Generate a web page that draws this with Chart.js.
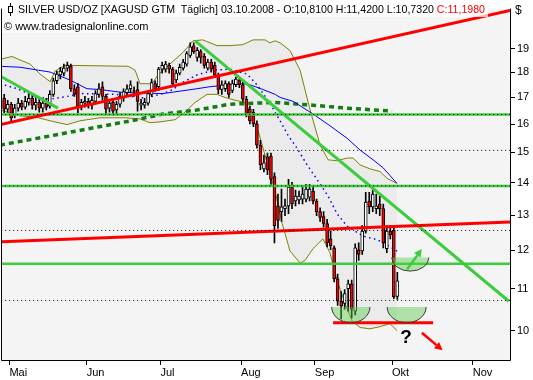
<!DOCTYPE html>
<html><head><meta charset="utf-8">
<script src="https://cdn.jsdelivr.net/npm/chart.js@4/dist/chart.umd.min.js"></script>
<style>html,body{margin:0;padding:0;background:#fff;overflow:hidden}canvas{display:block}</style>
</head><body>
<canvas id="c" width="533" height="380"></canvas>
<script>
// ---- categories / ticks ----
const firstIndex = -2; // trading-day index of first candle (29.04.2008); 0 = 01.05.2008
const monthLabels = ['Mai','Jun','Jul','Aug','Sep','Okt','Nov'];
const monthStartIndex = [0,22,43,66,87,109,132];
const yTickValues = [10,11,12,13,14,15,16,17,18,19];

// ---- OHLC (USD/oz) ----
const opens = [16.89,16.97,16.55,16.74,16.30,16.59,16.78,16.63,16.81,16.97,16.70,16.81,16.59,16.78,16.67,17.12,17.66,17.89,17.97,18.17,18.25,17.34,17.42,16.67,16.78,16.85,16.70,16.85,17.12,17.42,17.04,16.59,16.81,16.52,16.74,16.97,17.19,17.34,17.27,17.31,16.70,16.70,16.78,17.12,17.54,17.42,18.13,18.13,18.29,18.13,17.69,17.97,18.17,18.34,18.71,19.12,18.62,18.87,18.67,18.17,18.42,18.29,17.89,17.31,17.34,17.54,17.27,17.50,17.69,17.50,16.93,16.55,16.44,16.01,15.25,14.45,14.85,14.88,14.20,13.28,13.11,13.20,13.28,13.86,13.43,13.46,13.49,13.49,13.55,13.74,13.43,13.11,12.96,12.76,12.32,12.07,11.25,10.69,10.64,11.00,11.12,10.45,12.02,11.99,12.54,13.43,13.25,13.20,13.34,13.20,12.05,12.54,12.57,10.81];
const highs = [17.04,17.12,16.89,16.81,16.74,16.97,16.89,17.04,17.15,17.08,17.04,16.93,16.85,16.97,17.27,17.77,18.05,18.21,18.34,18.42,18.34,17.50,17.54,16.93,17.04,16.97,17.04,17.27,17.54,17.62,17.12,16.89,16.93,16.85,17.19,17.34,17.50,17.66,17.42,17.62,16.93,16.97,17.27,17.73,17.66,18.21,18.42,18.46,18.38,18.21,18.09,18.34,18.54,18.87,19.25,19.25,19.04,18.96,18.79,18.54,18.54,18.42,17.97,17.66,17.66,17.62,17.69,17.81,17.77,17.62,17.04,16.67,16.55,16.12,15.42,14.91,14.98,14.98,14.32,13.64,13.80,13.49,14.11,14.01,13.77,13.74,13.86,13.95,13.95,13.86,13.49,13.22,13.11,12.88,12.54,12.13,11.37,10.93,10.98,11.22,11.22,12.18,12.21,12.70,13.70,13.70,13.77,13.64,13.58,13.34,12.70,12.70,12.70,11.42];
const lows = [16.44,16.41,16.44,16.08,16.23,16.48,16.52,16.55,16.70,16.55,16.52,16.44,16.44,16.52,16.59,17.04,17.54,17.73,17.85,18.05,17.23,17.04,16.41,16.52,16.63,16.59,16.55,16.74,17.00,16.89,16.37,16.44,16.34,16.37,16.63,16.85,17.04,17.19,17.04,16.48,16.52,16.59,16.70,17.04,17.23,17.27,17.97,18.01,17.97,17.42,17.58,17.89,18.09,18.25,18.62,18.79,18.46,18.38,18.17,18.09,18.01,17.81,17.15,17.12,17.23,17.00,17.19,17.42,17.38,16.85,16.26,16.01,15.91,15.15,14.42,14.35,14.26,13.95,12.21,12.62,12.82,12.99,13.05,13.20,13.28,13.34,13.34,13.40,13.43,13.34,12.99,12.82,12.65,12.10,12.02,11.17,10.59,10.27,10.50,10.45,10.29,10.36,11.73,11.89,12.48,13.05,13.11,13.05,12.99,12.07,11.94,12.32,10.75,10.732];
const closes = [16.59,16.55,16.74,16.23,16.59,16.78,16.63,16.85,16.97,16.70,16.81,16.59,16.78,16.63,17.12,17.66,17.93,18.05,18.17,18.29,17.34,17.12,16.67,16.81,16.85,16.70,16.89,17.15,17.34,17.04,16.55,16.78,16.48,16.74,17.04,17.23,17.34,17.50,17.23,16.85,16.78,16.81,17.15,17.58,17.34,18.13,18.29,18.34,18.13,17.54,17.97,18.21,18.42,18.79,19.08,18.87,18.92,18.62,18.29,18.42,18.13,17.89,17.31,17.50,17.54,17.12,17.54,17.73,17.50,16.93,16.37,16.12,16.01,15.25,14.58,14.65,14.42,14.11,12.70,12.85,13.25,13.28,13.86,13.34,13.58,13.58,13.64,13.80,13.80,13.43,13.11,12.94,12.76,12.21,12.13,11.25,10.69,10.57,10.88,11.12,10.50,12.07,11.89,12.54,13.40,13.25,13.64,13.28,13.20,12.21,12.54,12.43,10.80,11.198];

// ---- indicators: [trading-day index, value] ----
const upperBand = [[-2.2,18.54],[1.2,18.66],[6.4,18.34],[9.2,17.93],[12.1,17.62],[13.5,18.05],[16.3,18.29],[34.3,18.25],[36.3,18.09],[37.7,17.54],[41.1,17.54],[42.8,17.89],[46.2,18.34],[49.9,18.83],[52.8,19.34],[55.6,19.38],[59.6,19.13],[63.3,19.13],[67.0,19.17],[69.9,19.38],[73.3,19.38],[74.7,19.25],[76.2,19.34],[77.6,19.25],[80.4,18.92],[83.3,18.09],[86.1,16.55],[89.0,15.25],[91.3,14.75],[93.8,14.72],[96.7,14.81],[98.4,14.81],[100.4,14.58],[103.2,14.45],[106.1,14.36],[108.1,14.14],[110.9,13.98]];
const lowerBand = [[-2.2,16.52],[3.5,16.30],[7.8,16.26],[12.1,16.12],[16.9,15.98],[20.6,16.12],[26.3,16.23],[33.4,16.23],[37.7,16.19],[40.5,16.05],[43.4,16.08],[47.7,16.16],[50.5,16.44],[53.4,16.81],[56.8,17.12],[59.6,17.12],[61.9,17.00],[64.8,16.89],[67.6,16.81],[69.0,16.48],[71.3,15.77],[73.3,14.91],[76.2,13.72],[78.2,12.76],[80.4,11.99],[83.3,11.66],[84.7,11.73],[87.0,12.05],[89.8,12.32],[91.8,11.94],[93.8,11.22],[96.1,10.64],[98.1,10.22],[100.4,10.07],[103.2,10.04],[106.1,10.09],[108.9,10.16],[110.9,10.00]];
const sma50 = [[-2.2,18.25],[3.5,18.21],[12.1,18.01],[17.7,17.69],[22.6,17.34],[26.3,17.31],[32.9,17.19],[44.2,17.15],[53.9,17.34],[57.6,17.42],[63.3,17.50],[67.0,17.54],[69.0,17.50],[72.7,17.31],[76.2,17.12],[77.6,17.00],[81.3,16.85],[87.0,16.37],[91.8,15.94],[96.7,15.49],[100.4,15.08],[104.1,14.75],[106.9,14.49],[110.9,13.98]];
const sma20 = [[-2.2,17.54],[2.7,17.34],[7.8,17.04],[12.1,16.93],[16.9,17.04],[21.5,17.15],[30.6,17.12],[39.1,16.97],[44.2,17.15],[47.1,17.31],[49.1,17.54],[53.9,17.89],[58.5,18.09],[63.3,18.13],[68.2,17.93],[71.0,17.50],[74.7,16.78],[77.6,16.12],[79.9,15.59],[82.4,15.15],[85.3,14.58],[88.1,14.11],[91.3,13.58],[93.8,13.05],[96.7,12.68],[101.2,12.40],[105.2,12.30],[106.9,12.21],[109.8,12.05],[110.9,11.98]];
const sma200 = [[-2.2,15.25],[15.8,15.66],[36.3,16.15],[44.2,16.37],[53.9,16.52],[63.3,16.74],[76.2,16.81],[87.0,16.70],[96.7,16.59],[109.5,16.48]];

// ---- drawings ----
const redTrendUpper = [[-2.2,15.98],[143.1,20.72]];
const redTrendLower = [[-2.2,12.24],[143.1,12.80]];
const redSupport = [[92.7,10.18],[121.2,10.18]];
const greenDownTrend = [[53.4,19.34],[142.8,10.69]];
const greenEarlyTrend = [[-2.2,17.85],[14.3,16.59]];
const greenLevels = [16.35,13.90,11.64];
const dottedLevels = [16.35,15.07,13.90,12.56,10.71];
const bowls = [{from:92.3,to:103.2,top:10.55,bottom:10.18},{from:108.1,to:119.2,top:10.55,bottom:10.18},{from:109.4,to:120.0,top:11.81,bottom:11.45}];
const arrows = [{from:[113.8,11.50],to:[118.0,12.04],color:'#3ccc3c'},{from:[118.0,9.95],to:[123.9,9.56],color:'#ff0000'}];
const questionMark = {x:113.5,y:9.84,text:'?'};
const titleMain = 'SILVER USD/OZ [XAGUSD GTM  Täglich] 03.10.2008 - O:10,8100 H:11,4200 L:10,7320 ';
const titleClose = 'C:11,1980';
const titleSub = '© www.tradesignalonline.com';

const X_MIN = -1.62, X_MAX = 143.1, Y_MIN = 9.352, Y_MAX = 20.81;
const FONT = '"Liberation Sans", Arial, sans-serif';
Chart.defaults.font.family = FONT;
Chart.defaults.font.size = 11;
Chart.defaults.color = '#000';

const wickData = highs.map((h,k)=>({x:firstIndex+k, y:[lows[k],h]}));
const bodyData = opens.map((o,k)=>({x:firstIndex+k, y:[Math.min(o,closes[k]),Math.max(o,closes[k])]}));
const bodyColors = opens.map((o,k)=> closes[k]>=o ? '#ffffff' : '#ff0000');

const pts = a => a.map(p=>({x:p[0],y:p[1]}));
const lineDs = (a, o) => Object.assign({type:'line', data:pts(a), pointRadius:0, tension:0, fill:false, clip:0, borderWidth:1}, o);
const hLine = v => [[-3,v],[146,v]];

const datasets = [
  lineDs(upperBand,{borderColor:'#808000', fill:'+1', backgroundColor:'#ebebeb', order:100}),
  lineDs(lowerBand,{borderColor:'#808000', order:100}),
  lineDs(sma50,{borderColor:'#0000ff', order:90}),
  lineDs(sma20,{borderColor:'#0000ff', borderDash:[1.5,3.5], borderWidth:1.5, order:90}),
  lineDs(sma200,{borderColor:'#137d13', borderDash:[5,4], borderWidth:3.5, order:90}),
  {type:'bar', data:wickData, backgroundColor:'#000', borderWidth:0, barThickness:1, grouped:false, order:60, clip:0},
  {type:'bar', data:bodyData, backgroundColor:bodyColors, borderColor:'#000', borderWidth:1, borderSkipped:false, barThickness:3, minBarLength:1, grouped:false, order:50, clip:0},
  ...greenLevels.map(v=>lineDs(hLine(v),{borderColor:'#3ccc3c', borderWidth:2.5, order:40})),
  lineDs(redTrendUpper,{borderColor:'#ff0000', borderWidth:3, order:30}),
  lineDs(redTrendLower,{borderColor:'#ff0000', borderWidth:3, order:30}),
  lineDs(redSupport,{borderColor:'#ff0000', borderWidth:3, order:30}),
  lineDs(greenDownTrend,{borderColor:'#3ccc3c', borderWidth:3, order:30}),
  lineDs(greenEarlyTrend,{borderColor:'#3ccc3c', borderWidth:3, order:30}),
  ...dottedLevels.map(v=>lineDs(hLine(v),{borderColor:'#000', borderDash:[1,3], borderWidth:1, order:20}))
];

const decor = {
  id:'decor',
  beforeDraw(chart){
    const {ctx, chartArea:a} = chart;
    ctx.save();
    ctx.fillStyle='#fff'; ctx.fillRect(0,0,chart.width,chart.height);
    ctx.fillStyle='#f4f4f4'; ctx.fillRect(a.left,a.top,a.right-a.left,a.bottom-a.top);
    ctx.restore();
  },
  afterDatasetsDraw(chart){
    const {ctx, scales:{x,y}} = chart;
    ctx.save();
    bowls.forEach(b=>{
      const x0=x.getPixelForValue(b.from), x1=x.getPixelForValue(b.to);
      const yt=y.getPixelForValue(b.top), yb=y.getPixelForValue(b.bottom);
      const cx=(x0+x1)/2, rx=(x1-x0)/2, ry=yb-yt;
      ctx.beginPath(); ctx.ellipse(cx,yt,rx,ry,0,0,Math.PI); ctx.closePath();
      ctx.fillStyle='rgba(92,204,76,0.45)'; ctx.fill();
      ctx.beginPath(); ctx.ellipse(cx,yt,rx,ry,0,0,Math.PI);
      ctx.strokeStyle='#3a3a3a'; ctx.lineWidth=1; ctx.stroke();
    });
    arrows.forEach(ar=>{
      const px0=x.getPixelForValue(ar.from[0]), py0=y.getPixelForValue(ar.from[1]);
      const px1=x.getPixelForValue(ar.to[0]), py1=y.getPixelForValue(ar.to[1]);
      const ang=Math.atan2(py1-py0,px1-px0), L=8, W=4;
      const bx=px1-L*Math.cos(ang), by=py1-L*Math.sin(ang);
      ctx.strokeStyle=ar.color; ctx.fillStyle=ar.color; ctx.lineWidth=2.5;
      ctx.beginPath(); ctx.moveTo(px0,py0); ctx.lineTo(bx,by); ctx.stroke();
      ctx.beginPath(); ctx.moveTo(px1,py1);
      ctx.lineTo(bx+W*Math.sin(ang), by-W*Math.cos(ang));
      ctx.lineTo(bx-W*Math.sin(ang), by+W*Math.cos(ang));
      ctx.closePath(); ctx.fill();
    });
    ctx.fillStyle='#000'; ctx.font='bold 19px '+FONT; ctx.textAlign='center'; ctx.textBaseline='middle';
    ctx.fillText(questionMark.text, x.getPixelForValue(questionMark.x), y.getPixelForValue(questionMark.y));
    ctx.restore();
  },
  afterDraw(chart){
    const {ctx, chartArea:a} = chart;
    ctx.save();
    // frame
    ctx.strokeStyle='#000'; ctx.lineWidth=1;
    ctx.beginPath();
    ctx.moveTo(a.left-0.5,a.top); ctx.lineTo(a.left-0.5,a.bottom+0.5);
    ctx.lineTo(a.right+0.5,a.bottom+0.5); ctx.lineTo(a.right+0.5,a.top);
    ctx.stroke();
    // title boxes
    ctx.fillStyle='rgba(255,255,255,0.72)';
    ctx.fillRect(a.left,0,486,17);
    ctx.fillRect(a.left,17,148,16);
    // symbol icon
    ctx.strokeStyle='#000';
    ctx.beginPath(); ctx.moveTo(10.5,3); ctx.lineTo(10.5,16); ctx.stroke();
    ctx.fillStyle='#fff'; ctx.fillRect(8.5,6.5,4,6); ctx.strokeRect(8.5,6.5,4,6);
    ctx.font='10.6px '+FONT; ctx.textAlign='left'; ctx.textBaseline='alphabetic';
    ctx.fillStyle='#000';
    ctx.fillText(titleMain,18,13);
    const w=ctx.measureText(titleMain).width;
    ctx.fillStyle='#ff0000'; ctx.fillText(titleClose,18+w,13);
    ctx.font='11px '+FONT;
    ctx.fillStyle='#000'; ctx.fillText(titleSub,4,30);
    ctx.font='12px '+FONT; ctx.fillText('$',515,14);
    ctx.restore();
  }
};

new Chart(document.getElementById('c'), {
  type:'line',
  data:{datasets},
  options:{
    responsive:false, animation:false, devicePixelRatio:1,
    layout:{padding:{left:2,top:0,right:0,bottom:0}},
    plugins:{legend:{display:false}, tooltip:{enabled:false}, filler:{drawTime:'beforeDatasetsDraw'}},
    scales:{
      x:{type:'linear', min:X_MIN, max:X_MAX, bounds:'data', offset:false,
        afterBuildTicks:s=>{s.ticks=monthStartIndex.map(v=>({value:v+0.5}));},
        afterFit:s=>{s.height=20;},
        ticks:{autoSkip:false, maxRotation:0, align:'start', padding:1, color:'#000', font:{size:11},
          callback:(v,i)=>monthLabels[i]},
        grid:{offset:false, drawOnChartArea:false, drawTicks:true, tickLength:5, tickColor:'#000', color:'#000'},
        border:{display:false}},
      y:{type:'logarithmic', position:'right', min:Y_MIN, max:Y_MAX, bounds:'data',
        afterBuildTicks:s=>{s.ticks=yTickValues.map(v=>({value:v}));},
        afterFit:s=>{s.width=23;},
        ticks:{autoSkip:false, padding:2, color:'#000', font:{size:11}, callback:v=>String(v)},
        grid:{drawOnChartArea:false, drawTicks:true, tickLength:5, tickColor:'#000', color:'#000'},
        border:{display:false}}
    }
  },
  plugins:[decor]
});
</script>
</body></html>
